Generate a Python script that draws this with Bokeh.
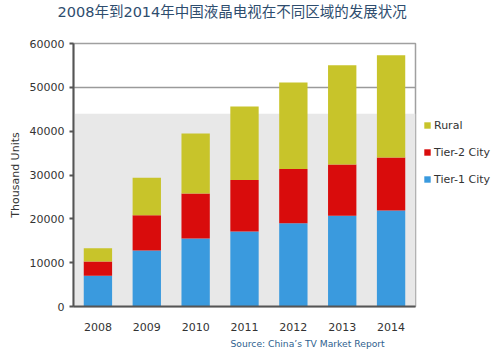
from bokeh.plotting import figure
from bokeh.layouts import row
from bokeh.models import ColumnDataSource, Legend, LegendItem, Title, BoxAnnotation, SingleIntervalTicker, NumeralTickFormatter
from bokeh.embed import file_html
from bokeh.resources import INLINE

years = ["2008", "2009", "2010", "2011", "2012", "2013", "2014"]
tier1 = [7000, 12800, 15500, 17100, 19000, 20700, 21900]
tier2 = [3250, 8000, 10300, 11760, 12370, 11720, 12110]
rural = [3030, 8580, 13680, 16770, 19720, 22640, 23320]
series = ["tier1", "tier2", "rural"]
series_labels = ["Tier-1 City", "Tier-2 City", "Rural"]
colors = ["#3a9ade", "#d90c0c", "#c8c42a"]

src = ColumnDataSource(dict(years=years, tier1=tier1, tier2=tier2, rural=rural))

p = figure(x_range=years, y_range=(0, 60000), width=417, height=356,
           output_backend="svg", toolbar_location=None,
           min_border_left=73, min_border_right=2, min_border_top=43, min_border_bottom=50)

p.add_layout(BoxAnnotation(bottom=0, top=44000, fill_color="#e8e8e8", fill_alpha=1.0,
                           line_color=None, level="underlay"))

renderers = p.vbar_stack(series, x="years", width=0.58, color=colors, source=src, line_color=None)

p.title.text = "2008年到2014年中国液晶电视在不同区域的发展状况"
p.title.text_font = "DejaVu Sans, Noto Sans CJK SC"
p.title.text_font_size = "14.5px"
p.title.text_font_style = "normal"
p.title.text_color = "#2e4d6e"
p.title.align = "left"
p.title.vertical_align = "middle"
p.title.offset = -16
p.title.standoff = 0

# spacer between title and frame
spacer = Title(text=" ", text_font_size="1px", standoff=20)
p.add_layout(spacer, "above")

p.yaxis.ticker = SingleIntervalTicker(interval=10000)
p.yaxis.formatter = NumeralTickFormatter(format="0")
p.yaxis.axis_label = "Thousand Units"
p.yaxis.axis_label_text_font = "DejaVu Sans"
p.yaxis.axis_label_text_font_size = "11px"
p.yaxis.axis_label_text_font_style = "normal"
p.yaxis.axis_label_text_color = "#333333"
p.yaxis.minor_tick_line_color = None
p.yaxis.major_tick_in = 0
p.yaxis.major_tick_out = 4

for ax in (p.xaxis[0], p.yaxis[0]):
    ax.major_label_text_font = "DejaVu Sans"
    ax.major_label_text_font_size = "11px"
    ax.major_label_text_color = "#333333"
    ax.axis_line_color = "#555555"
    ax.axis_line_width = 2
    ax.major_tick_line_color = "#555555"
    ax.major_tick_line_width = 2

p.xaxis.major_tick_line_color = None
p.xaxis.major_label_standoff = 10

p.xgrid.grid_line_color = None
p.ygrid.grid_line_color = "#9a9a9a"
p.ygrid.grid_line_width = 1.5

p.outline_line_color = "#a0a0a0"
p.outline_line_width = 1.5
p.background_fill_color = "white"
p.border_fill_color = "white"

src_title = Title(text="Source: China’s TV Market Report", text_font="DejaVu Sans",
                  text_font_size="9.2px", text_font_style="normal", text_color="#2f5f8f",
                  align="left", offset=157, standoff=4)
p.add_layout(src_title, "below")

# legend panel: same stacks, hidden, so only their legend swatches show
lg = figure(width=83, height=356, x_range=years, y_range=(0, 60000),
            x_axis_type=None, y_axis_type=None, output_backend="svg", toolbar_location=None,
            min_border_left=0, min_border_right=0, min_border_top=0, min_border_bottom=0)
lg.grid.visible = False
lg.outline_line_color = None
lg.background_fill_color = "white"
lg.border_fill_color = "white"
lg_renderers = lg.vbar_stack(series, x="years", width=0.58, color=colors, source=src, line_color=None)
for r in lg_renderers:
    r.visible = False
items = [LegendItem(label=series_labels[i], renderers=[lg_renderers[i]]) for i in (2, 1, 0)]
legend = Legend(items=items, location=(6, 117), background_fill_alpha=0, border_line_color=None,
                glyph_width=8, glyph_height=8, label_height=20, spacing=7,
                label_text_font="DejaVu Sans", label_text_font_size="11px",
                label_text_color="#333333", label_standoff=3, padding=0, margin=0,
                inactive_fill_alpha=0)
lg.add_layout(legend, "center")

layout = row(p, lg, spacing=0)
open("out.html", "w").write(file_html(layout, INLINE))
